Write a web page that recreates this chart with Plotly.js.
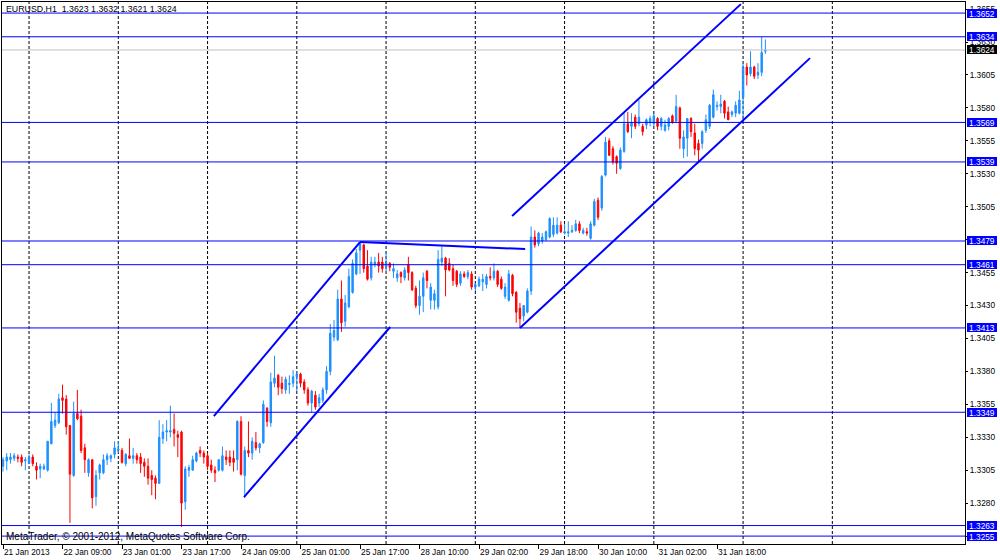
<!DOCTYPE html>
<html>
<head>
<meta charset="utf-8">
<script src="https://cdn.plot.ly/plotly-3.0.1.min.js"></script>
<style>
  html, body { margin: 0; padding: 0; background: #ffffff; }
  #chart { width: 1000px; height: 560px; }
</style>
</head>
<body>
<div id="chart"></div>
<script>
// ---- Data ----
const symbol = "EURUSD,H1";

const opens = [1.3308,1.3312,1.3313,1.3314,1.3315,1.3315,1.3312,1.3310,1.3315,1.3308,
1.3306,1.3306,1.3305,1.3325,1.3339,1.3341,1.3360,1.3359,1.3339,1.3301,
1.3348,1.3346,1.3322,1.3303,1.3313,1.3285,1.3303,1.3303,1.3313,1.3314,
1.3317,1.3320,1.3320,1.3310,1.3316,1.3314,1.3316,1.3315,1.3311,1.3308,
1.3301,1.3299,1.3295,1.3329,1.3334,1.3334,1.3336,1.3332,1.3334,1.3281,
1.3305,1.3305,1.3312,1.3320,1.3318,1.3316,1.3309,1.3305,1.3305,1.3305,
1.3315,1.3315,1.3314,1.3313,1.3342,1.3301,1.3320,1.3318,1.3326,1.3322,
1.3326,1.3352,1.3341,1.3371,1.3377,1.3371,1.3366,1.3370,1.3371,1.3376,
1.3378,1.3372,1.3366,1.3356,1.3362,1.3356,1.3358,1.3366,1.3380,1.3406,
1.3404,1.3435,1.3418,1.3429,1.3440,1.3454,1.3472,1.3476,1.3460,1.3451,
1.3461,1.3463,1.3463,1.3459,1.3462,1.3456,1.3451,1.3455,1.3451,1.3461,
1.3455,1.3443,1.3430,1.3437,1.3456,1.3434,1.3434,1.3429,1.3463,1.3466,
1.3462,1.3458,1.3456,1.3447,1.3454,1.3452,1.3454,1.3444,1.3445,1.3448,
1.3446,1.3452,1.3451,1.3456,1.3450,1.3437,1.3434,1.3453,1.3440,1.3428,
1.3422,1.3425,1.3441,1.3482,1.3477,1.3479,1.3480,1.3482,1.3484,1.3485,
1.3491,1.3485,1.3485,1.3486,1.3487,1.3492,1.3485,1.3486,1.3481,1.3491,
1.3510,1.3504,1.3529,1.3555,1.3549,1.3543,1.3534,1.3547,1.3568,1.3566,
1.3573,1.3568,1.3566,1.3567,1.3569,1.3568,1.3572,1.3566,1.3563,1.3566,
1.3574,1.3570,1.3580,1.3549,1.3557,1.3572,1.3561,1.3553,1.3553,1.3563,
1.3566,1.3573,1.3581,1.3581,1.3585,1.3577,1.3575,1.3576,1.3576,1.3588,
1.3611,1.3606,1.3611,1.3605,1.3607,1.3623];

const highs = [1.3315,1.3318,1.3318,1.3318,1.3317,1.3317,1.3315,1.3317,1.3317,1.3311,
1.3310,1.3310,1.3327,1.3356,1.3349,1.3363,1.3370,1.3362,1.3339,1.3357,
1.3366,1.3351,1.3325,1.3314,1.3313,1.3305,1.3310,1.3317,1.3318,1.3317,
1.3327,1.3327,1.3322,1.3318,1.3329,1.3322,1.3318,1.3318,1.3314,1.3314,
1.3305,1.3301,1.3343,1.3340,1.3343,1.3354,1.3348,1.3335,1.3335,1.3308,
1.3309,1.3316,1.3319,1.3323,1.3320,1.3318,1.3313,1.3308,1.3313,1.3323,
1.3320,1.3320,1.3320,1.3343,1.3346,1.3323,1.3342,1.3330,1.3334,1.3326,
1.3358,1.3353,1.3379,1.3392,1.3378,1.3376,1.3376,1.3377,1.3381,1.3380,
1.3379,1.3374,1.3368,1.3366,1.3365,1.3363,1.3368,1.3384,1.3416,1.3419,
1.3442,1.3449,1.3438,1.3458,1.3465,1.3473,1.3478,1.3477,1.3472,1.3467,
1.3467,1.3470,1.3467,1.3471,1.3463,1.3462,1.3457,1.3456,1.3459,1.3467,
1.3456,1.3445,1.3449,1.3455,1.3457,1.3447,1.3442,1.3472,1.3475,1.3467,
1.3466,1.3461,1.3457,1.3456,1.3456,1.3457,1.3456,1.3447,1.3452,1.3454,
1.3454,1.3459,1.3462,1.3457,1.3452,1.3447,1.3457,1.3454,1.3441,1.3432,
1.3430,1.3443,1.3490,1.3487,1.3486,1.3485,1.3487,1.3497,1.3497,1.3497,
1.3494,1.3492,1.3494,1.3491,1.3495,1.3494,1.3489,1.3489,1.3494,1.3511,
1.3512,1.3529,1.3558,1.3557,1.3551,1.3544,1.3550,1.3576,1.3577,1.3576,
1.3575,1.3586,1.3568,1.3572,1.3574,1.3576,1.3573,1.3573,1.3571,1.3573,
1.3575,1.3590,1.3581,1.3563,1.3572,1.3573,1.3568,1.3556,1.3563,1.3575,
1.3583,1.3594,1.3585,1.3590,1.3586,1.3581,1.3578,1.3585,1.3593,1.3614,
1.3614,1.3623,1.3612,1.3614,1.3634,1.3632];

const lows = [1.3304,1.3305,1.3310,1.3312,1.3311,1.3308,1.3305,1.3310,1.3308,1.3298,
1.3299,1.3305,1.3304,1.3325,1.3337,1.3340,1.3348,1.3332,1.3265,1.3300,
1.3343,1.3318,1.3303,1.3300,1.3276,1.3278,1.3298,1.3302,1.3309,1.3311,
1.3314,1.3318,1.3310,1.3308,1.3314,1.3310,1.3310,1.3303,1.3300,1.3294,
1.3286,1.3283,1.3295,1.3325,1.3327,1.3330,1.3323,1.3315,1.3262,1.3275,
1.3300,1.3305,1.3311,1.3315,1.3310,1.3305,1.3303,1.3296,1.3304,1.3304,
1.3309,1.3308,1.3304,1.3305,1.3301,1.3284,1.3315,1.3313,1.3320,1.3318,
1.3325,1.3338,1.3338,1.3368,1.3362,1.3363,1.3363,1.3363,1.3368,1.3365,
1.3368,1.3363,1.3354,1.3349,1.3351,1.3353,1.3356,1.3363,1.3377,1.3403,
1.3403,1.3410,1.3414,1.3428,1.3439,1.3453,1.3454,1.3455,1.3449,1.3449,
1.3459,1.3455,1.3455,1.3456,1.3456,1.3451,1.3448,1.3447,1.3449,1.3449,
1.3441,1.3428,1.3423,1.3425,1.3443,1.3427,1.3427,1.3427,1.3460,1.3437,
1.3456,1.3445,1.3444,1.3445,1.3451,1.3450,1.3442,1.3441,1.3444,1.3441,
1.3443,1.3449,1.3449,1.3444,1.3442,1.3435,1.3433,1.3437,1.3417,1.3413,
1.3418,1.3424,1.3438,1.3474,1.3475,1.3477,1.3479,1.3481,1.3482,1.3484,
1.3485,1.3484,1.3482,1.3485,1.3486,1.3485,1.3484,1.3483,1.3480,1.3490,
1.3495,1.3502,1.3528,1.3544,1.3537,1.3530,1.3533,1.3546,1.3561,1.3557,
1.3564,1.3566,1.3559,1.3564,1.3566,1.3566,1.3563,1.3563,1.3562,1.3563,
1.3568,1.3569,1.3549,1.3542,1.3543,1.3558,1.3544,1.3538,1.3549,1.3561,
1.3564,1.3572,1.3578,1.3576,1.3572,1.3571,1.3573,1.3573,1.3575,1.3571,
1.3597,1.3604,1.3602,1.3602,1.3604,1.3621];

const closes = [1.3313,1.3315,1.3315,1.3316,1.3314,1.3311,1.3313,1.3315,1.3310,1.3305,
1.3308,1.3308,1.3327,1.3342,1.3343,1.3359,1.3358,1.3338,1.3302,1.3348,
1.3344,1.3320,1.3313,1.3313,1.3284,1.3301,1.3309,1.3313,1.3316,1.3316,
1.3322,1.3321,1.3311,1.3317,1.3314,1.3316,1.3313,1.3310,1.3308,1.3299,
1.3298,1.3295,1.3330,1.3334,1.3335,1.3335,1.3333,1.3330,1.3280,1.3306,
1.3307,1.3313,1.3318,1.3318,1.3315,1.3308,1.3305,1.3303,1.3313,1.3316,
1.3313,1.3311,1.3311,1.3342,1.3302,1.3320,1.3318,1.3327,1.3322,1.3325,
1.3355,1.3342,1.3372,1.3375,1.3368,1.3367,1.3374,1.3371,1.3376,1.3378,
1.3371,1.3366,1.3356,1.3365,1.3353,1.3360,1.3366,1.3380,1.3409,1.3411,
1.3435,1.3417,1.3432,1.3452,1.3462,1.3470,1.3477,1.3458,1.3450,1.3463,
1.3463,1.3460,1.3458,1.3463,1.3459,1.3458,1.3454,1.3452,1.3457,1.3455,
1.3442,1.3430,1.3437,1.3451,1.3449,1.3444,1.3439,1.3465,1.3466,1.3457,
1.3457,1.3449,1.3446,1.3454,1.3452,1.3455,1.3444,1.3446,1.3450,1.3450,
1.3452,1.3451,1.3456,1.3446,1.3443,1.3444,1.3454,1.3439,1.3425,1.3420,
1.3430,1.3441,1.3482,1.3476,1.3485,1.3482,1.3486,1.3496,1.3491,1.3491,
1.3486,1.3486,1.3486,1.3487,1.3492,1.3487,1.3487,1.3485,1.3492,1.3509,
1.3497,1.3528,1.3554,1.3544,1.3539,1.3538,1.3548,1.3568,1.3562,1.3569,
1.3566,1.3573,1.3562,1.3571,1.3572,1.3574,1.3566,1.3572,1.3567,1.3572,
1.3569,1.3581,1.3557,1.3558,1.3572,1.3562,1.3549,1.3548,1.3562,1.3571,
1.3582,1.3590,1.3582,1.3583,1.3576,1.3571,1.3577,1.3582,1.3586,1.3611,
1.3605,1.3611,1.3604,1.3607,1.3622,1.3624];

// x-axis labels (every 16 bars)
const tickBars = [0,16,32,48,64,80,96,112,128,144,160,176,192];
const tickLabels = ["21 Jan 2013","22 Jan 09:00","23 Jan 01:00","23 Jan 17:00","24 Jan 09:00",
  "25 Jan 01:00","25 Jan 17:00","28 Jan 10:00","29 Jan 02:00","29 Jan 18:00",
  "30 Jan 10:00","31 Jan 02:00","31 Jan 18:00"];

// day separator grid (bar index)
const gridBars = [7,31,55,79,103,127,151,175,199,223];

// horizontal price levels
const levels = [1.3652,1.3634,1.3569,1.3539,1.3479,1.3461,1.3413,1.3349,1.3263,1.3255];

// trend / channel lines: [barIndex, price] pairs
const trendStartBar = [56.7, 64.8, 96.0, 136.9, 139.0];
const trendStartPrice = [1.33461, 1.32846, 1.34782, 1.34979, 1.34129];
const trendEndBar = [96.0, 104.1, 140.4, 198.4, 217.0];
const trendEndPrice = [1.34782, 1.34137, 1.34729, 1.36588, 1.36178];

// copyright / header text
const copyrightText = "MetaTrader, © 2001-2012, MetaQuotes Software Corp.";

// ---- Build chart ----
const n = Math.min(opens.length, highs.length, lows.length, closes.length);
const bars = [];
for (let i = 0; i < n; i++) bars.push(i);
const last = n - 1;
const bid = closes[last];

const FONT = "Liberation Sans, Arial, sans-serif";
const BLUE = "#0000FF";

const trace = {
  type: "candlestick",
  x: bars,
  open: opens.slice(0, n), high: highs.slice(0, n), low: lows.slice(0, n), close: closes.slice(0, n),
  increasing: { line: { color: "#1E90FF", width: 1 }, fillcolor: "#1E90FF" },
  decreasing: { line: { color: "#FF0000", width: 1 }, fillcolor: "#FF0000" },
  whiskerwidth: 0,
  hoverinfo: "none",
  showlegend: false
};

const shapes = [];
gridBars.forEach(b => shapes.push({
  type: "line", xref: "x", yref: "paper", x0: b, x1: b, y0: 0, y1: 1,
  line: { color: "#000000", width: 1, dash: "3px,2px" }, layer: "below"
}));
// bid line
shapes.push({ type: "line", xref: "paper", yref: "y", x0: 0, x1: 1, y0: bid, y1: bid,
  line: { color: "#C0C0C0", width: 1 }, layer: "above" });
levels.forEach(v => shapes.push({
  type: "line", xref: "paper", yref: "y", x0: 0, x1: 1, y0: v, y1: v,
  line: { color: BLUE, width: 1 }, layer: "above"
}));
for (let k = 0; k < trendStartBar.length; k++) {
  shapes.push({ type: "line", xref: "x", yref: "y",
    x0: trendStartBar[k], y0: trendStartPrice[k], x1: trendEndBar[k], y1: trendEndPrice[k],
    line: { color: BLUE, width: 2 }, layer: "above" });
}

const annotations = [];
levels.forEach(v => annotations.push({
  xref: "paper", yref: "y", x: 1, y: v, xanchor: "left", yanchor: "middle", xshift: 2,
  text: v.toFixed(4), showarrow: false, bgcolor: BLUE, borderpad: 0, borderwidth: 0,
  width: 30, height: 9, align: "center",
  font: { family: FONT, size: 8.3, color: "#FFFFFF" }
}));
annotations.push({
  xref: "paper", yref: "y", x: 1, y: bid, xanchor: "left", yanchor: "middle", xshift: 2,
  text: bid.toFixed(4), showarrow: false, bgcolor: "#000000", borderpad: 0, borderwidth: 0,
  width: 30, height: 9, align: "center",
  font: { family: FONT, size: 8.3, color: "#FFFFFF" }
});
annotations.push({
  xref: "paper", yref: "paper", x: 0, y: 1, xanchor: "left", yanchor: "middle",
  xshift: 2, yshift: -7,
  text: symbol + "  " + [opens[last], highs[last], lows[last], closes[last]].map(v => v.toFixed(4)).join(" "),
  showarrow: false, font: { family: FONT, size: 8.8, color: "#000000" }
});
annotations.push({
  xref: "paper", yref: "paper", x: 0, y: 0, xanchor: "left", yanchor: "middle",
  xshift: 2, yshift: 8,
  text: copyrightText, showarrow: false, font: { family: FONT, size: 10, color: "#000000" }
});

const layout = {
  width: 1000, height: 560,
  margin: { l: 2, r: 35, t: 2, b: 16, pad: 0 },
  paper_bgcolor: "#FFFFFF", plot_bgcolor: "#FFFFFF",
  showlegend: false,
  boxgap: 0.45,
  xaxis: {
    type: "linear", range: [-0.27, 258.67],
    tickmode: "array", tickvals: tickBars, ticktext: tickLabels,
    ticks: "outside", ticklen: 4, tickcolor: "#000000", tickwidth: 1,
    ticklabelposition: "outside right",
    tickfont: { family: FONT, size: 8.3, color: "#000000" },
    showgrid: false, zeroline: false,
    showline: true, mirror: true, linecolor: "#000000", linewidth: 1,
    rangeslider: { visible: false }, fixedrange: true
  },
  yaxis: {
    side: "right", range: [1.32490, 1.36604],
    tick0: 1.3255, dtick: 0.0025, tickformat: ".4f",
    ticks: "outside", ticklen: 2, tickcolor: "#000000", tickwidth: 1,
    tickfont: { family: FONT, size: 8.3, color: "#000000" },
    showgrid: false, zeroline: false,
    showline: true, mirror: true, linecolor: "#000000", linewidth: 1,
    fixedrange: true
  },
  shapes: shapes,
  annotations: annotations
};

Plotly.newPlot("chart", [trace], layout, { staticPlot: true, displayModeBar: false });
</script>
</body>
</html>
